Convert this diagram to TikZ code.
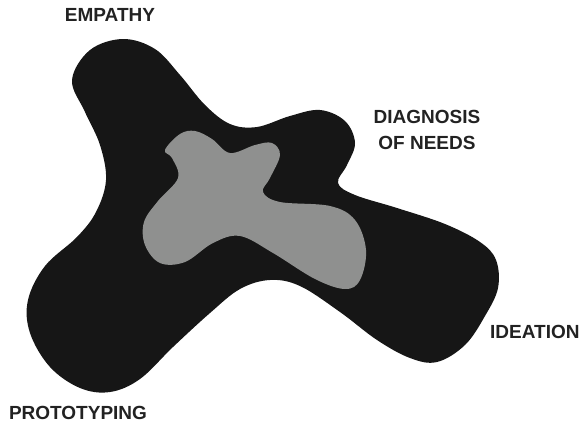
\documentclass[tikz,border=0pt]{standalone}
\usepackage{fontspec}
\setmainfont{Liberation Sans}
\definecolor{blobdark}{HTML}{161616}
\definecolor{blobgray}{HTML}{8F908F}
\definecolor{labelink}{HTML}{222222}
\begin{document}
\begin{tikzpicture}[x=1pt, y=-1pt,
  stagelabel/.style={font=\fontsize{19}{26}\selectfont\bfseries, text=labelink, align=center, inner sep=0pt}]
\useasboundingbox (0,0) rectangle (581,426);
% outer blob
\fill[blobdark] plot[smooth cycle, tension=0.6] coordinates {
  (72,80) (90,50) (123,39) (155,49) (180,75) (205,105) (230,124) (257,127)
  (290,116) (320,110) (345,121) (355,143) (347,165) (338,183) (355,195)
  (397,208) (445,224) (480,242) (496,260) (498,288) (485,316) (465,345)
  (437,362) (410,358) (377,340) (340,312) (300,286) (270,280) (240,289)
  (210,313) (173,347) (140,379) (110,392) (80,388) (50,367) (30,333)
  (28,300) (45,266) (77,237) (96,212) (106,180) (100,145) (85,112)};
% inner blob
\fill[blobgray] plot[smooth cycle, tension=0.6] coordinates {
  (165,150) (180,134) (195,131) (212,139) (230,153) (255,145) (272,143)
  (280,155) (270,178) (263,192) (280,202) (330,206) (355,220) (366,250)
  (360,280) (345,289) (315,279) (273,253) (240,236) (213,243) (185,262)
  (160,263) (145,245) (144,222) (158,201) (178,178) (172,158)};
% stage names
\node[stagelabel] (empathy) at (110,15) {EMPATHY};
\node[stagelabel] (diagnosis) at (427,130) {DIAGNOSIS\\OF NEEDS};
\node[stagelabel, anchor=west] (ideation) at (490,332) {IDEATION};
\node[stagelabel] (prototyping) at (78,413) {PROTOTYPING};
\end{tikzpicture}
\end{document}
